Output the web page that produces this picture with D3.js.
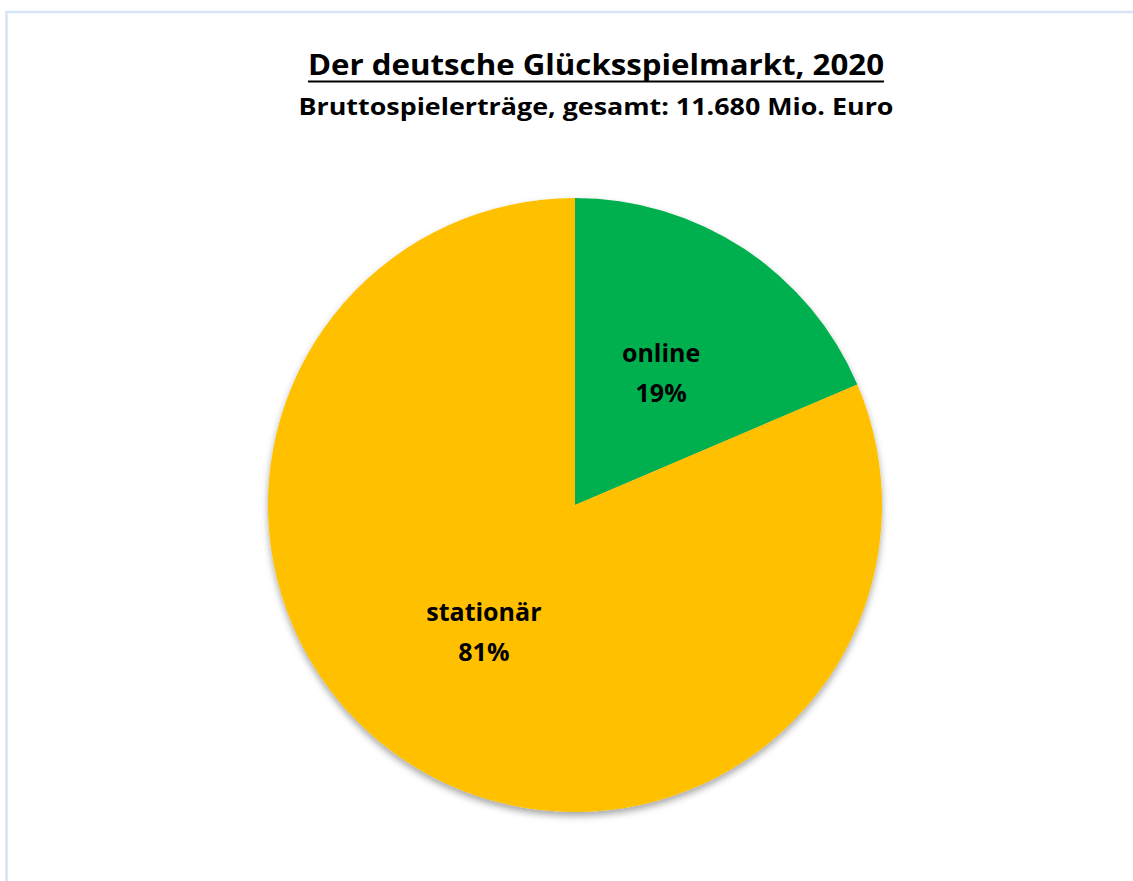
<!DOCTYPE html>
<html>
<head>
<meta charset="utf-8">
<script src="https://cdn.jsdelivr.net/npm/d3@7"></script>
<style>
  html, body { margin: 0; padding: 0; background: #fff; }
  text { font-family: "Open Sans", "Noto Sans", sans-serif; font-weight: 700; fill: #000; }
</style>
</head>
<body>
<svg id="chart"></svg>
<script>
// Daten (Mio. Euro, geschätzt)
const categories = ["online", "stationär"];
const values = [2170, 9510];
const colors = ["#00b050", "#ffc000"];
const title = "Der deutsche Glücksspielmarkt, 2020";
const subtitle = "Bruttospielerträge, gesamt: 11.680 Mio. Euro";

const width = 1133;
const height = 881;
const cx = 575, cy = 505, radius = 307;

const svg = d3.select("#chart")
    .attr("width", width)
    .attr("height", height);

// Rahmen
svg.append("rect")
    .attr("x", 6.5).attr("y", 12)
    .attr("width", width + 10).attr("height", height + 10)
    .attr("fill", "none")
    .attr("stroke", "#d6e4f5")
    .attr("stroke-width", 2.5);

// Schatten
const defs = svg.append("defs");
const f = defs.append("filter").attr("id", "shadow")
    .attr("x", "-10%").attr("y", "-10%").attr("width", "120%").attr("height", "120%");
f.append("feDropShadow")
    .attr("dx", 0).attr("dy", 4)
    .attr("stdDeviation", 3.5)
    .attr("flood-color", "#000")
    .attr("flood-opacity", 0.35);

// Titel
svg.append("text")
    .attr("x", 596).attr("y", 75)
    .attr("text-anchor", "middle")
    .attr("font-size", 29)
    .attr("textLength", 576)
    .attr("lengthAdjust", "spacingAndGlyphs")
    .text(title);
svg.append("line")
    .attr("x1", 308).attr("x2", 884)
    .attr("y1", 81.5).attr("y2", 81.5)
    .attr("stroke", "#000").attr("stroke-width", 2);

svg.append("text")
    .attr("x", 596).attr("y", 115)
    .attr("text-anchor", "middle")
    .attr("font-size", 24)
    .attr("textLength", 595)
    .attr("lengthAdjust", "spacingAndGlyphs")
    .text(subtitle);

// Kreis
const total = d3.sum(values);
const pie = d3.pie().sort(null).value(d => d);
const arcs = pie(values);
const arc = d3.arc().innerRadius(0).outerRadius(radius);
const labelArc = d3.arc().innerRadius(radius * 1.03).outerRadius(0);

const g = svg.append("g").attr("transform", `translate(${cx},${cy})`);

g.append("g")
    .attr("filter", "url(#shadow)")
    .selectAll("path")
    .data(arcs)
    .enter()
    .append("path")
    .attr("d", arc)
    .attr("fill", (d, i) => colors[i]);

// Beschriftung
const nudge = [[-1, 0], [-4, -5]];
const lbl = g.selectAll(".lbl")
    .data(arcs)
    .enter()
    .append("text")
    .attr("class", "lbl")
    .attr("text-anchor", "middle")
    .attr("font-size", 25)
    .attr("transform", (d, i) => {
        const [x, y] = labelArc.centroid(d);
        return `translate(${x + nudge[i][0]},${y + nudge[i][1]})`;
    });

lbl.append("tspan")
    .attr("x", 0).attr("y", -11)
    .text((d, i) => categories[i]);
lbl.append("tspan")
    .attr("x", 0).attr("y", 29)
    .text(d => Math.round(d.data / total * 100) + "%");
</script>
</body>
</html>
